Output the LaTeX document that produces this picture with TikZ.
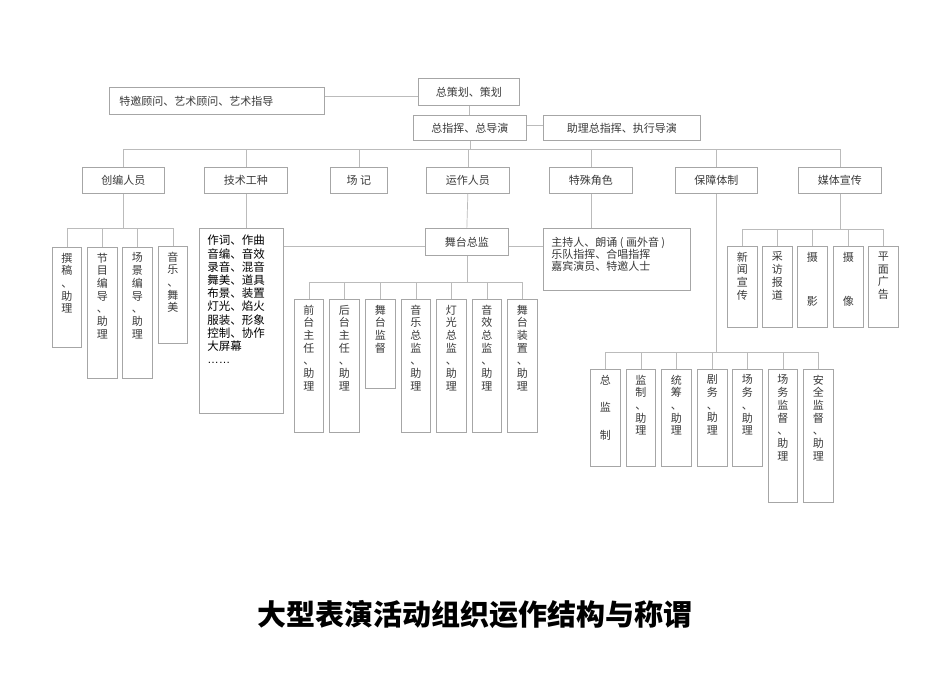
\documentclass[tikz,border=0pt]{standalone}
\usepackage{fontspec}
\setmainfont{Noto Sans CJK SC}
\newfontfamily\latinsans{Liberation Sans}
\definecolor{boxc}{HTML}{A6A6A6}
\definecolor{linec}{HTML}{BBBBBB}
\definecolor{txtc}{HTML}{3A3A3A}
\newcommand\hbx[6]{%
  \pgfmathsetmacro\bxw{#4-#2}\pgfmathsetmacro\bxh{#5-#3}%
  \node[box, lbl, anchor=north west, minimum width=\bxw pt, minimum height=\bxh pt] (#1) at (#2,#3) {#6};}
\newcommand\vbx[7][5.5pt]{%
  \pgfmathsetmacro\bxw{#5-#3}\pgfmathsetmacro\bxh{#6-#4}%
  \node[box, anchor=north west] (#2) at (#3,#4)
   {\parbox[c][\bxh pt][t]{\bxw pt}{\centering\fontsize{11}{12.7}\selectfont\color{txtc}\vspace*{#1}#7}};}
\begin{document}
\begin{tikzpicture}[x=1pt,y=-1pt,
  box/.style={draw=boxc, line width=0.7pt, inner sep=0pt, fill=white},
  lbl/.style={font=\fontsize{11}{12}\selectfont, text=txtc},
  conn/.style={draw=linec, line width=0.7pt}]
\useasboundingbox[fill=white] (0,0) rectangle (950,672);
% top
\node[box, lbl, anchor=north west, minimum width=215pt, minimum height=27pt, text width=195pt, align=left] (tg) at (109,87) {特邀顾问、艺术顾问、艺术指导};
\hbx{zc}{418}{78}{519}{105}{总策划、策划}
\hbx{zz}{413}{115}{526}{140}{总指挥、总导演}
\hbx{zl}{543}{115}{700}{140}{助理总指挥、执行导演}
\draw[conn] ([yshift=4.5pt]tg.east) coordinate (t1) -- (t1 -| zc.west);
\draw[conn] ([yshift=3pt]zz.east) coordinate (t2) -- (t2 -| zl.west);
\draw[conn] (zc.south) -- (zc.south |- zz.north);
% level 2
\hbx{cb}{82}{167}{164}{193}{创编人员}
\hbx{js}{204}{167}{287}{193}{技术工种}
\hbx{cj}{330}{167}{387}{193}{场\ 记}
\hbx{yz}{426}{167}{509}{193}{运作人员}
\hbx{ts}{549}{167}{632}{193}{特殊角色}
\hbx{bz}{675}{167}{757}{193}{保障体制}
\hbx{mt}{798}{167}{881}{193}{媒体宣传}
\coordinate (bus) at (0,149);
\draw[conn] (zz.south) -- (zz.south |- bus);
\draw[conn] (cb.north |- bus) -- (mt.north |- bus);
\foreach \n in {cb,js,cj,yz,ts,bz,mt} \draw[conn] (\n.north) -- (\n.north |- bus);
% creative
\vbx{c1}{52}{247}{81}{347}{撰\\稿\\、\\助\\理}
\vbx{c2}{87}{247}{117}{378}{节\\目\\编\\导\\、\\助\\理}
\vbx{c3}{122}{247}{152}{378}{场\\景\\编\\导\\、\\助\\理}
\vbx{c4}{158}{246}{187}{343}{音\\乐\\、\\舞\\美}
\coordinate (bc) at (0,228);
\draw[conn] (cb.south) -- (cb.south |- bc);
\draw[conn] (c1.north |- bc) -- (c4.north |- bc);
\foreach \n in {c1,c2,c3,c4} \draw[conn] (\n.north) -- (\n.north |- bc);
% technical
\node[box, anchor=north west] (jb) at (199,228)
  {\parbox[c][185pt][t]{84pt}{\raggedright\fontsize{11.5}{13.2}\selectfont\vspace*{7pt}\hspace*{8pt}%
  \begin{minipage}[t]{74pt}作词、作曲\\音编、音效\\录音、混音\\舞美、道具\\布景、装置\\灯光、焰火\\服装、形象\\控制、协作\\大屏幕\\{\latinsans ……}\end{minipage}}};
\draw[conn] (js.south) -- (js.south |- jb.north);
% operations
\hbx{wt}{425}{228}{508}{255}{舞台总监}
\draw[conn] (yz.south) -- (wt.north);
\node[box, anchor=north west] (sp) at (543,228)
  {\parbox[c][62pt][t]{147pt}{\raggedright\fontsize{11}{11.8}\selectfont\color{txtc}\vspace*{9pt}\hspace*{8pt}%
  \begin{minipage}[t]{136pt}主持人、朗诵 ( 画外音 )\\乐队指挥、合唱指挥\\嘉宾演员、特邀人士\end{minipage}}};
\draw[conn] (ts.south) -- (ts.south |- sp.north);
\coordinate (hl) at (0,246);
\draw[conn] (jb.east |- hl) -- (wt.west |- hl);
\draw[conn] (wt.east |- hl) -- (sp.west |- hl);
\vbx{w1}{294}{299}{323}{432}{前\\台\\主\\任\\、\\助\\理}
\vbx{w2}{329}{299}{359}{432}{后\\台\\主\\任\\、\\助\\理}
\vbx{w3}{365}{299}{395}{388}{舞\\台\\监\\督}
\vbx{w4}{401}{299}{430}{432}{音\\乐\\总\\监\\、\\助\\理}
\vbx{w5}{436}{299}{466}{432}{灯\\光\\总\\监\\、\\助\\理}
\vbx{w6}{472}{299}{501}{432}{音\\效\\总\\监\\、\\助\\理}
\vbx{w7}{507}{299}{537}{432}{舞\\台\\装\\置\\、\\助\\理}
\coordinate (bw) at (0,282);
\draw[conn] (wt.south) -- (wt.south |- bw);
\draw[conn] (w1.north |- bw) -- (w7.north |- bw);
\foreach \n in {w1,w2,w3,w4,w5,w6,w7} \draw[conn] (\n.north) -- (\n.north |- bw);
% media
\vbx{m1}{727}{246}{757}{327}{新\\闻\\宣\\传}
\vbx{m2}{762}{246}{792}{327}{采\\访\\报\\道}
\vbx{m3}{797}{246}{827}{327}{摄\\[32pt]影}
\vbx{m4}{833}{246}{863}{327}{摄\\[32pt]像}
\vbx{m5}{868}{246}{898}{327}{平\\面\\广\\告}
\coordinate (bm) at (0,229);
\draw[conn] (mt.south) -- (mt.south |- bm);
\draw[conn] (m1.north |- bm) -- (m5.north |- bm);
\foreach \n in {m1,m2,m3,m4,m5} \draw[conn] (\n.north) -- (\n.north |- bm);
% support
\vbx{b1}{590}{369}{620}{466}{总\\[15pt]监\\[15pt]制}
\vbx{b2}{626}{369}{655}{466}{监\\制\\、\\助\\理}
\vbx{b3}{661}{369}{691}{466}{统\\筹\\、\\助\\理}
\vbx{b4}{697}{369}{727}{466}{剧\\务\\、\\助\\理}
\vbx{b5}{732}{369}{762}{466}{场\\务\\、\\助\\理}
\vbx{b6}{768}{369}{797}{502}{场\\务\\监\\督\\、\\助\\理}
\vbx{b7}{803}{369}{833}{502}{安\\全\\监\\督\\、\\助\\理}
\coordinate (bb) at (0,352);
\draw[conn] (bz.south) -- (bz.south |- bb);
\draw[conn] (b1.north |- bb) -- (b7.north |- bb);
\foreach \n in {b1,b2,b3,b4,b5,b6,b7} \draw[conn] (\n.north) -- (\n.north |- bb);
% title
\node[font=\fontsize{29}{30}\selectfont\bfseries, text=black] (title) at (475,615) {大型表演活动组织运作结构与称谓};
\end{tikzpicture}
\end{document}
